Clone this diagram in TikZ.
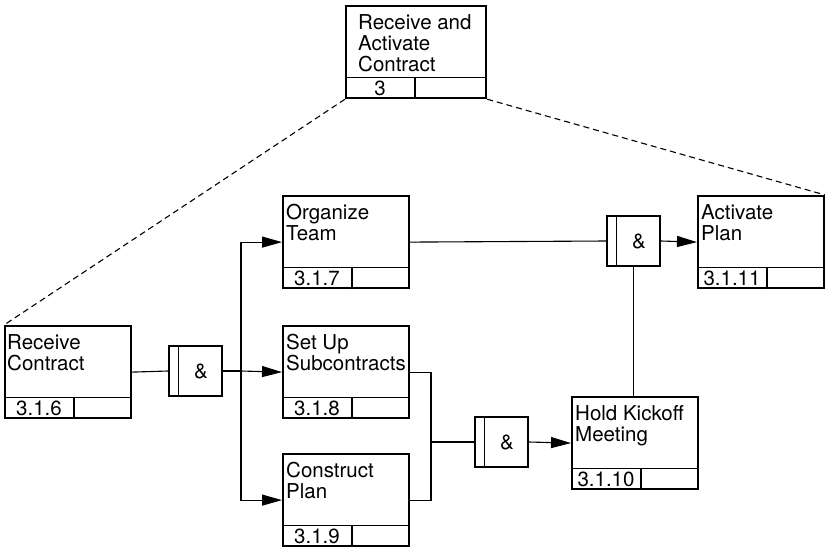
\documentclass[tikz,border=0pt]{standalone}
\usepackage{fontspec}
\setmainfont{TeX Gyre Heros}
\usetikzlibrary{arrows.meta}

% A task box: frame, number strip along the bottom, split after 70pt.
% [#1] width, #2 name, #3 left, #4 top, #5 label, #6 number, #7 label inset
\newcommand\taskbox[7][126]{%
  \node[taskframe, minimum width=#1pt, anchor=north west] (#2) at (#3,#4) {};
  \draw[divider] ([yshift=22pt]#2.south west) -- ([yshift=22pt]#2.south east);
  \draw[divider] ([xshift=70pt]#2.south west) -- ([xshift=70pt,yshift=22pt]#2.south west);
  \node[jobtext] (#2-txt) at ([xshift=#7pt,yshift=-9pt]#2.north west) {#5};
  \node[jobnum] (#2-num) at ([xshift=35pt,yshift=11pt]#2.south west) {#6};
}
% An AND junction: frame with a narrow bar on its left side.
\newcommand\andgate[3]{%
  \node[gate] (#1) at (#2,#3) {};
  \draw[divider] ([xshift=11pt]#1.south west) -- ([xshift=11pt]#1.north west);
  \node[jobnum] (#1-amp) at ([xshift=5.5pt]#1.center) {\&};
}

\begin{document}
\begin{tikzpicture}[x=1pt,y=-1pt,
  taskframe/.style={draw, line width=2.2pt, minimum height=92pt, inner sep=0pt},
  gate/.style={draw, line width=2.2pt, minimum width=53pt, minimum height=50pt, inner sep=0pt},
  divider/.style={line width=1.1pt},
  flow/.style={line width=1.1pt},
  arrowed/.style={flow, -{Triangle[length=20pt,width=11pt]}},
  jobtext/.style={font=\fontsize{20.5}{21}\selectfont, align=left, inner sep=0pt, anchor=north west},
  jobnum/.style={font=\fontsize{20.5}{21}\selectfont, inner sep=0pt},
  link/.style={line width=1.1pt, dash pattern=on 6pt off 4pt}]

\useasboundingbox (0,0) rectangle (825,547);

% parent activity
\taskbox[140]{top}{345}{5}{Receive and\\Activate\\Contract}{3}{13}
% its sub-activities
\taskbox{rc}{4}{325}{Receive\\Contract}{3.1.6}{3}
\taskbox{ot}{282}{195}{Organize\\Team}{3.1.7}{4}
\taskbox{su}{282}{325}{Set Up\\Subcontracts}{3.1.8}{4}
\taskbox{cp}{282}{453}{Construct\\Plan}{3.1.9}{4}
\taskbox{hk}{571}{396}{Hold Kickoff\\Meeting}{3.1.10}{4}
\taskbox{ap}{697}{195}{Activate\\Plan}{3.1.11}{4}

% junctions
\andgate{g1}{195.5}{371}
\andgate{g2}{501.5}{442}
\andgate{g3}{633.5}{241}

% decomposition of the parent
\draw[link] (top.south west) -- (rc.north west);
\draw[link] (top.south east) -- (ap.north east);

% fan-out after receiving the contract
\coordinate (j1) at (241,371);
\draw[flow] (rc.east) -- (g1.west);
\draw[flow] (g1.east) -- (j1);
\draw[arrowed] (j1) |- (ot.west);
\draw[arrowed] (j1) -- (su.west);
\draw[arrowed] (j1) |- (cp.west);

% join before the kickoff meeting
\coordinate (j2) at (431,442);
\draw[flow] (su.east) -| (j2);
\draw[flow] (cp.east) -| (j2);
\draw[flow] (j2) -- (g2.west);
\draw[arrowed] (g2.east) -- (hk.west);

% join before activating the plan
\draw[flow] (ot.east) -- (g3.west);
\draw[flow] (g3.south) -- (g3.south |- hk.north);
\draw[arrowed] (g3.east) -- (ap.west);

\end{tikzpicture}
\end{document}
